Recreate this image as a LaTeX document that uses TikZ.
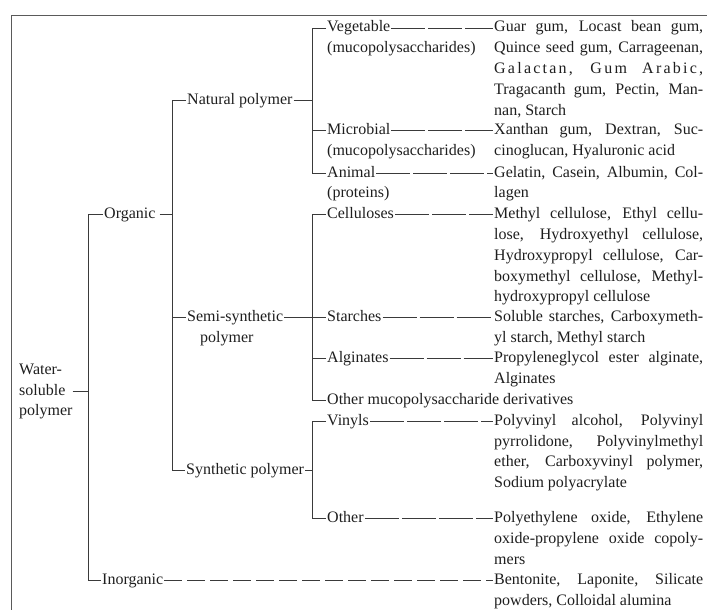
\documentclass[tikz,border=0pt]{standalone}
\usepackage{fontspec}
\setmainfont{Liberation Serif}
\definecolor{txt}{HTML}{1E1E1E}
\definecolor{lin}{HTML}{3A3A3A}
\definecolor{frm}{HTML}{5A5A5A}
\newcommand\myjust[1]{\makebox[209pt][s]{#1}}
\begin{document}
\begin{tikzpicture}[x=1pt,y=-1pt,
  every node/.style={inner xsep=1pt, inner ysep=0pt, text height=11pt, text depth=3pt,
    anchor=west, font=\fontsize{16}{20}\selectfont, text=txt},
  ln/.style={draw=lin, line width=0.8pt},
  lead/.style={ln, dash pattern=on 34pt off 3pt},
  leadb/.style={ln, dash pattern=on 18pt off 5pt},
  frame/.style={draw=frm, line width=0.8pt}]
\useasboundingbox (0,0) rectangle (707,610);
% frame
\coordinate (fA) at (11,610);
\coordinate (fB) at (11,15);
\coordinate (fC) at (707,15);
\draw[frame] (fA) -- (fB) -- (fC);
% bus positions
\coordinate (b1) at (88,0);
\coordinate (b2) at (172,0);
\coordinate (b3) at (312,0);
% level 0
\node (ws1) at (18,370) {Water-};
\node (ws2) at (18,391) {soluble};
\node (ws3) at (18,411) {polymer};
% level 1
\node (org) at (103,214) {Organic};
\node (inorg) at (101,580) {Inorganic};
% level 2
\node (nat) at (186,100) {Natural polymer};
\node (semi) at (186,317) {Semi-synthetic};
\node (semib) at (199,338) {polymer};
\node (syn) at (185,470) {Synthetic polymer};
% level 3
\node (veg) at (326,28) {Vegetable};
\node (vega) at (326,49) {(mucopolysaccharides)};
\node (mic) at (326,130) {Microbial};
\node (mica) at (326,151) {(mucopolysaccharides)};
\node (ani) at (326,173) {Animal};
\node (ania) at (326,193) {(proteins)};
\node (cel) at (326,214) {Celluloses};
\node (sta) at (326,317) {Starches};
\node (alg) at (326,358) {Alginates};
\node (oth) at (326,400) {Other mucopolysaccharide derivatives};
\node (vin) at (326,421) {Vinyls};
\node (oth2) at (326,518) {Other};
% leaves
\node (r1) at (493,28) {\myjust{Guar gum, Locast bean gum,}};
\node (r2) at (493,49) {\myjust{Quince seed gum, Carrageenan,}};
\node (r3) at (493,70) {\myjust{\addfontfeature{LetterSpace=14}Galactan, Gum Arabic,}};
\node (r4) at (493,91) {\myjust{Tragacanth gum, Pectin, Man-}};
\node (r5) at (493,111) {nan, Starch};
\node (r6) at (493,130) {\myjust{Xanthan gum, Dextran, Suc-}};
\node (r7) at (493,151) {cinoglucan, Hyaluronic acid};
\node (r8) at (493,173) {\myjust{Gelatin, Casein, Albumin, Col-}};
\node (r9) at (493,193) {lagen};
\node (r10) at (493,214) {\myjust{Methyl cellulose, Ethyl cellu-}};
\node (r11) at (493,235) {\myjust{lose, Hydroxyethyl cellulose,}};
\node (r12) at (493,256) {\myjust{Hydroxypropyl cellulose, Car-}};
\node (r13) at (493,277) {\myjust{boxymethyl cellulose, Methyl-}};
\node (r14) at (493,297) {hydroxypropyl cellulose};
\node (r15) at (493,317) {\myjust{Soluble starches, Carboxymeth-}};
\node (r16) at (493,338) {yl starch, Methyl starch};
\node (r17) at (493,358) {\myjust{Propyleneglycol ester alginate,}};
\node (r18) at (493,379) {Alginates};
\node (r19) at (493,421) {\myjust{Polyvinyl alcohol, Polyvinyl}};
\node (r20) at (493,442) {\myjust{pyrrolidone, Polyvinylmethyl}};
\node (r21) at (493,462) {\myjust{ether, Carboxyvinyl polymer,}};
\node (r22) at (493,483) {Sodium polyacrylate};
\node (r23) at (493,518) {\myjust{Polyethylene oxide, Ethylene}};
\node (r24) at (493,539) {\myjust{oxide-propylene oxide copoly-}};
\node (r25) at (493,560) {mers};
\node (r26) at (493,580) {\myjust{Bentonite, Laponite, Silicate}};
\node (r27) at (493,601) {powders, Colloidal alumina};
% connectors: level 0 -> 1
\draw[ln] ([xshift=6pt]ws2.east) -- (ws2.east -| b1);
\draw[ln] (org.west) -- (org.west -| b1) -- (inorg.west -| b1) -- (inorg.west);
% level 1 -> 2
\draw[ln] ([xshift=3pt]org.east) -- (org.east -| b2);
\draw[ln] (nat.west) -- (nat.west -| b2) -- (syn.west -| b2) -- (syn.west);
\draw[ln] (semi.west) -- (semi.west -| b2);
% level 2 -> 3
\draw[ln] (nat.east) -- (nat.east -| b3);
\draw[ln] (veg.west) -- (veg.west -| b3) -- (ani.west -| b3) -- (ani.west);
\draw[ln] (mic.west) -- (mic.west -| b3);
\draw[ln] (semi.east) -- (sta.west);
\draw[ln] (cel.west) -- (cel.west -| b3) -- (oth.west -| b3) -- (oth.west);
\draw[ln] (alg.west) -- (alg.west -| b3);
\draw[ln] (syn.east) -- (syn.east -| b3);
\draw[ln] (vin.west) -- (vin.west -| b3) -- (oth2.west -| b3) -- (oth2.west);
% leaders to leaves
\draw[lead] (veg.east) -- (r1.west);
\draw[lead] (mic.east) -- (r6.west);
\draw[lead] (ani.east) -- (r8.west);
\draw[lead] (cel.east) -- (r10.west);
\draw[lead] (sta.east) -- (r15.west);
\draw[lead] (alg.east) -- (r17.west);
\draw[lead] (vin.east) -- (r19.west);
\draw[lead] (oth2.east) -- (r23.west);
\draw[leadb] (inorg.east) -- (r26.west);
\end{tikzpicture}
\end{document}
